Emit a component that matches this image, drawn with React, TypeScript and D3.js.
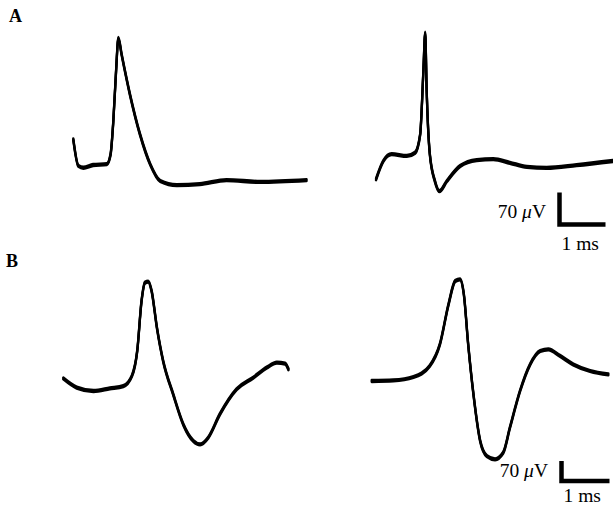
import React from "react";
import * as d3 from "d3";

// traces: time in ms, voltage in µV (relative to each trace's baseline)
const aLeftT = [0, 0.11, 0.22, 0.43, 0.73, 0.81, 0.87, 0.93, 0.98, 1.05, 1.23, 1.45, 1.67, 1.89, 2.25, 2.75, 3.33, 4.06, 5.07];
const aLeftV = [91, 33, 29, 35, 37, 58, 131, 241, 313, 277, 190, 102, 37, 0, -9, -7, 2, -2, 2];

const aRightT = [0, 0.16, 0.34, 0.67, 0.85, 0.96, 1.03, 1.07, 1.1, 1.17, 1.28, 1.38, 1.54, 1.83, 2.19, 2.55, 2.91, 3.28, 3.71, 4.36, 5.15];
const aRightV = [-40, 0, 15, 11, 18, 58, 197, 281, 160, 15, -44, -66, -44, -11, 2, 4, -4, -13, -15, -9, 0];

const bLeftT = [0, 0.28, 0.63, 0.97, 1.25, 1.43, 1.54, 1.63, 1.7, 1.77, 1.84, 1.95, 2.08, 2.29, 2.5, 2.71, 2.85, 3.02, 3.26, 3.61, 3.96, 4.24, 4.45, 4.62, 4.69];
const bLeftV = [9, -23, -35, -26, -18, 18, 105, 280, 344, 348, 315, 187, 70, -47, -152, -210, -222, -198, -117, -29, 12, 47, 64, 61, 41];

const bRightT = [0, 0.45, 0.87, 1.21, 1.42, 1.6, 1.74, 1.84, 1.92, 2.01, 2.12, 2.26, 2.4, 2.57, 2.74, 2.88, 3.09, 3.3, 3.51, 3.68, 3.92, 4.2, 4.55, 4.93];
const bRightV = [0, 2, 14, 53, 128, 268, 350, 356, 303, 128, -47, -210, -263, -274, -251, -163, -35, 58, 105, 111, 88, 58, 35, 23];

const scaleBarMs = 1;
const scaleBarUv = 70;
const panelLabels = ["A", "B"];

const zip = (t: number[], v: number[]) => t.map((d, i) => ({ t: d, v: v[i] }));

// per-row scaling (px per ms, px per µV)
const rowA = { pxMs: 46, pxUv: 32 / 70 };
const rowB = { pxMs: 48, pxUv: 20 / 70 };

function makeScales(row, x0, y0) {
  const x = d3.scaleLinear().domain([0, 1]).range([x0, x0 + row.pxMs]);
  const y = d3.scaleLinear().domain([0, 70]).range([y0, y0 - 70 * row.pxUv]);
  return { x, y };
}

function Trace({ data, sc }) {
  const line = d3
    .line<{ t: number; v: number }>()
    .x((d) => sc.x(d.t))
    .y((d) => sc.y(d.v))
    .curve(d3.curveMonotoneX);
  const d = line(data) || "";
  // two sweeps slightly offset: thick on slow parts, thin on fast ones
  return (
    <g fill="none" stroke="#000" strokeLinecap="round" strokeLinejoin="round">
      <path d={d} strokeWidth={2.3} />
      <path d={d} strokeWidth={2.3} transform="translate(0,1)" />
      <path d={d} strokeWidth={2.3} transform="translate(0,2)" />
    </g>
  );
}

function ScaleBar({ sc, label, labelX, labelY, msY }) {
  const x0 = sc.x(0);
  const x1 = sc.x(scaleBarMs);
  const yb = sc.y(0);
  const yt = sc.y(scaleBarUv);
  return (
    <g fontFamily="'Liberation Serif', 'DejaVu Serif', serif" fontSize={19.5}>
      <path d={`M${x0},${yt} L${x0},${yb} L${x1},${yb}`} fill="none" stroke="#000" strokeWidth={4.5} />
      <text x={labelX} y={labelY} textAnchor="end">
        {label} <tspan fontStyle="italic">μ</tspan>V
      </text>
      <text x={x0 + 2} y={msY}>
        {scaleBarMs} ms
      </text>
    </g>
  );
}

export default function App() {
  const aL = makeScales(rowA, 73.3, 180);
  const aR = makeScales(rowA, 376, 160);
  const bL = makeScales(rowB, 63.3, 380);
  const bR = makeScales(rowB, 371.7, 380);
  const barA = makeScales(rowA, 559.5, 224.5);
  const barB = makeScales(rowB, 561.5, 481);

  return (
    <svg
      width={613}
      height={511}
      style={{ position: "absolute", left: 0, top: 0, background: "#fff" }}
    >
      <text x={9} y={22} fontFamily="'Liberation Serif', serif" fontWeight="bold" fontSize={18}>
        {panelLabels[0]}
      </text>
      <text x={6} y={267} fontFamily="'Liberation Serif', serif" fontWeight="bold" fontSize={18}>
        {panelLabels[1]}
      </text>

      <Trace data={zip(aLeftT, aLeftV)} sc={aL} />
      <Trace data={zip(aRightT, aRightV)} sc={aR} />
      <Trace data={zip(bLeftT, bLeftV)} sc={bL} />
      <Trace data={zip(bRightT, bRightV)} sc={bR} />

      <ScaleBar sc={barA} label={scaleBarUv} labelX={546} labelY={218} msY={250} />
      <ScaleBar sc={barB} label={scaleBarUv} labelX={548} labelY={477} msY={502} />
    </svg>
  );
}
